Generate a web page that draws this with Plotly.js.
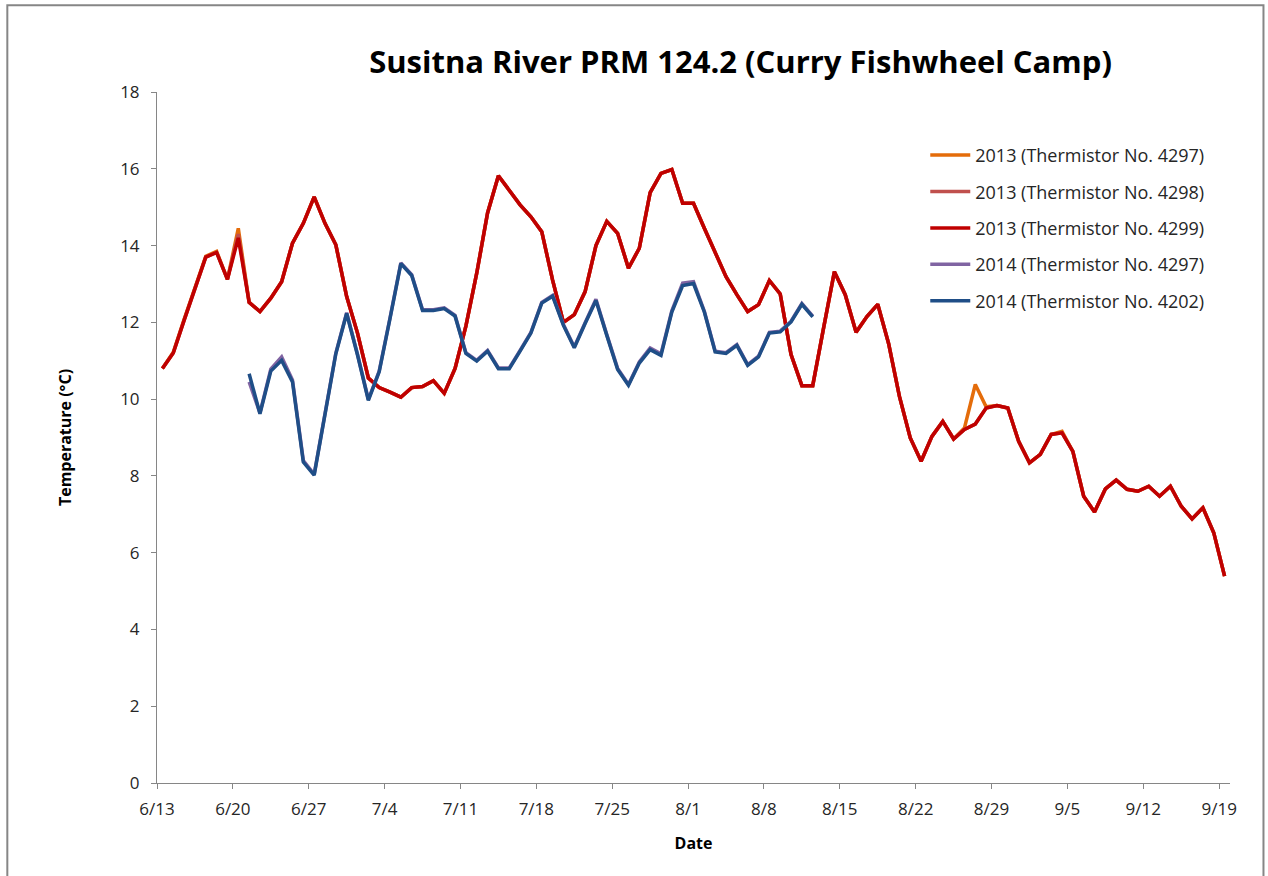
<!DOCTYPE html>
<html>
<head>
<meta charset="utf-8">
<script src="https://cdn.plot.ly/plotly-3.0.1.min.js"></script>
<style>
  html, body { margin: 0; padding: 0; background: #ffffff; }
  #chart { width: 1268px; height: 876px; }
</style>
</head>
<body>
<div id="chart"></div>
<script>
// ---- Data (daily means, °C) ----
const start2013 = '2013-06-13';   // first day of 2013 records
const start2014 = '2013-06-21';   // 2014 records start 6/21 (plotted on the same month/day axis)

const t2013_4299 = [
  10.8, 11.2, 12.05, 12.85, 13.7, 13.82, 13.12, 14.2, 12.52, 12.28,
  12.63, 13.06, 14.06, 14.58, 15.27, 14.58, 14.02, 12.67, 11.72, 10.55,
  10.3, 10.18, 10.05, 10.3, 10.33, 10.48, 10.15, 10.8, 11.9, 13.28,
  14.85, 15.82, 15.45, 15.06, 14.75, 14.36, 13.1, 12.0, 12.2, 12.8,
  14.0, 14.63, 14.32, 13.41, 13.93, 15.38, 15.88, 15.98, 15.1, 15.1,
  14.45, 13.8, 13.19, 12.72, 12.28, 12.46, 13.09, 12.74, 11.16, 10.35,
  10.35, 11.85, 13.32, 12.72, 11.74, 12.15, 12.47, 11.45, 10.07, 8.99,
  8.38, 9.03, 9.42, 8.96, 9.21, 9.35, 9.77, 9.83, 9.77, 8.9,
  8.34, 8.56, 9.08, 9.12, 8.64, 7.47, 7.06, 7.66, 7.89, 7.65,
  7.6, 7.73, 7.47, 7.73, 7.21, 6.88, 7.17, 6.52, 5.39
];
const t2013_4297 = [
  10.8, 11.22, 12.08, 12.88, 13.72, 13.85, 13.12, 14.45, 12.52, 12.28,
  12.63, 13.06, 14.06, 14.58, 15.27, 14.58, 14.02, 12.67, 11.72, 10.55,
  10.3, 10.18, 10.05, 10.3, 10.33, 10.48, 10.15, 10.8, 11.9, 13.28,
  14.85, 15.82, 15.45, 15.06, 14.75, 14.36, 13.1, 12.0, 12.2, 12.8,
  14.0, 14.63, 14.32, 13.41, 13.93, 15.38, 15.88, 15.98, 15.1, 15.1,
  14.45, 13.8, 13.19, 12.72, 12.28, 12.46, 13.09, 12.74, 11.16, 10.35,
  10.35, 11.85, 13.32, 12.72, 11.74, 12.15, 12.47, 11.45, 10.07, 8.99,
  8.38, 9.03, 9.42, 8.96, 9.25, 10.38, 9.8, 9.83, 9.77, 8.9,
  8.34, 8.56, 9.08, 9.16, 8.64, 7.47, 7.06, 7.66, 7.89, 7.65,
  7.6, 7.73, 7.47, 7.73, 7.21, 6.88, 7.17, 6.52, 5.39
];
const t2013_4298 = [
  10.8, 11.2, 12.05, 12.85, 13.7, 13.82, 13.12, 14.3, 12.52, 12.28,
  12.63, 13.06, 14.06, 14.58, 15.27, 14.58, 14.02, 12.67, 11.72, 10.55,
  10.3, 10.18, 10.05, 10.3, 10.33, 10.48, 10.15, 10.8, 11.9, 13.28,
  14.85, 15.82, 15.45, 15.06, 14.75, 14.36, 13.1, 12.0, 12.2, 12.8,
  14.0, 14.63, 14.32, 13.41, 13.93, 15.38, 15.88, 15.98, 15.1, 15.1,
  14.45, 13.8, 13.19, 12.72, 12.28, 12.46, 13.09, 12.74, 11.16, 10.35,
  10.35, 11.85, 13.32, 12.72, 11.74, 12.15, 12.47, 11.45, 10.07, 8.99,
  8.38, 9.03, 9.42, 8.96, 9.21, 9.35, 9.77, 9.83, 9.77, 8.9,
  8.34, 8.56, 9.08, 9.12, 8.64, 7.47, 7.06, 7.66, 7.89, 7.65,
  7.6, 7.73, 7.47, 7.73, 7.21, 6.88, 7.17, 6.52, 5.39
];
const t2014_4202 = [
  10.66, 9.62, 10.73, 11.01, 10.45, 8.36, 8.02, 9.6, 11.18, 12.23,
  11.15, 9.97, 10.71, 12.1, 13.53, 13.22, 12.31, 12.31, 12.36, 12.16,
  11.19, 10.99, 11.25, 10.79, 10.79, 11.25, 11.72, 12.5, 12.68, 11.92,
  11.34, 11.97, 12.57, 11.66, 10.77, 10.36, 10.94, 11.29, 11.14, 12.27,
  12.96, 13.01, 12.27, 11.23, 11.19, 11.4, 10.88, 11.1, 11.72, 11.75,
  12.01, 12.47, 12.14
];
const t2014_4297 = [
  10.45, 9.64, 10.78, 11.1, 10.5, 8.4, 8.04, 9.62, 11.2, 12.25,
  11.17, 9.99, 10.73, 12.12, 13.55, 13.24, 12.33, 12.33, 12.38, 12.18,
  11.21, 11.01, 11.27, 10.81, 10.81, 11.27, 11.74, 12.52, 12.7, 11.94,
  11.36, 11.99, 12.6, 11.68, 10.8, 10.38, 10.97, 11.33, 11.18, 12.3,
  13.02, 13.06, 12.29, 11.25, 11.21, 11.42, 10.9, 11.12, 11.74, 11.77,
  12.03, 12.49, 12.16
];

const seriesNames = [
  '2013 (Thermistor No. 4297)',
  '2013 (Thermistor No. 4298)',
  '2013 (Thermistor No. 4299)',
  '2014 (Thermistor No. 4297)',
  '2014 (Thermistor No. 4202)'
];
const seriesColors = ['#E46C0A', '#C0504D', '#C00000', '#8064A2', '#1F4E87'];
const xTickLabels = ['6/13','6/20','6/27','7/4','7/11','7/18','7/25','8/1','8/8','8/15','8/22','8/29','9/5','9/12','9/19'];

// ---- helpers ----
const DAY = 86400000;
function dayList(startStr, n) {
  const s = new Date(startStr + 'T00:00:00Z').getTime();
  const out = [];
  for (let i = 0; i < n; i++) {
    out.push(new Date(s + i * DAY).toISOString().slice(0, 10));
  }
  return out;
}
const tickVals = dayList('2013-06-13', 99).filter((d, i) => i % 7 === 0);

const seriesData = [
  [start2013, t2013_4297],
  [start2013, t2013_4298],
  [start2013, t2013_4299],
  [start2014, t2014_4297],
  [start2014, t2014_4202]
];

const traces = seriesData.map((s, i) => ({
  type: 'scatter',
  mode: 'lines',
  x: dayList(s[0], s[1].length),
  y: s[1],
  xperiod: DAY,
  xperiodalignment: 'middle',
  name: seriesNames[i],
  legendgroup: 'g' + i,
  line: { color: seriesColors[i], width: 3.5 },
  hoverinfo: 'x+y+name'
}));

const FONT = 'Open Sans, Noto Sans, DejaVu Sans, sans-serif';

const layout = {
  width: 1268,
  height: 876,
  paper_bgcolor: '#ffffff',
  plot_bgcolor: '#ffffff',
  margin: { l: 157, r: 38, t: 92, b: 93, pad: 0 },
  font: { family: FONT, size: 17, color: '#262626' },
  title: {
    text: '<b>Susitna River PRM 124.2 (Curry Fishwheel Camp)</b>',
    font: { family: FONT, size: 31, color: '#000000' },
    xref: 'container', x: 0.584, xanchor: 'center',
    yref: 'container', y: 0.929, yanchor: 'middle'
  },
  xaxis: {
    type: 'date',
    range: ['2013-06-13', '2013-09-20'],
    tickmode: 'array',
    tickvals: tickVals,
    ticktext: xTickLabels,
    ticks: 'outside',
    ticklen: 5,
    tickcolor: '#868686',
    ticklabelstandoff: 6,
    showline: true,
    linecolor: '#868686',
    linewidth: 1,
    showgrid: false,
    zeroline: false,
    tickfont: { family: FONT, size: 17, color: '#262626' },
    title: { text: '<b>Date</b>', font: { family: FONT, size: 16, color: '#000000' }, standoff: 18 }
  },
  yaxis: {
    range: [0, 18],
    tick0: 0,
    dtick: 2,
    ticks: 'outside',
    ticklen: 5,
    tickcolor: '#868686',
    ticklabelstandoff: 8,
    showline: true,
    linecolor: '#868686',
    linewidth: 1,
    showgrid: false,
    zeroline: false,
    tickfont: { family: FONT, size: 17, color: '#262626' },
    title: { text: '<b>Temperature (°C)</b>', font: { family: FONT, size: 16, color: '#000000' }, standoff: 44 }
  },
  showlegend: true,
  legend: {
    x: 0.716, xanchor: 'left',
    y: 0.935, yanchor: 'top',
    traceorder: 'grouped',
    tracegroupgap: 10,
    font: { family: FONT, size: 18, color: '#262626' },
    bgcolor: 'rgba(0,0,0,0)',
    itemwidth: 40
  },
  shapes: [{
    type: 'rect', xref: 'paper', yref: 'paper',
    x0: -0.1395, x1: 1.0312, y0: -0.15, y1: 1.1255,
    line: { color: '#868686', width: 2 }, fillcolor: 'rgba(0,0,0,0)', layer: 'above'
  }]
};

Plotly.newPlot('chart', traces, layout, { displayModeBar: false, staticPlot: true });
</script>
</body>
</html>
